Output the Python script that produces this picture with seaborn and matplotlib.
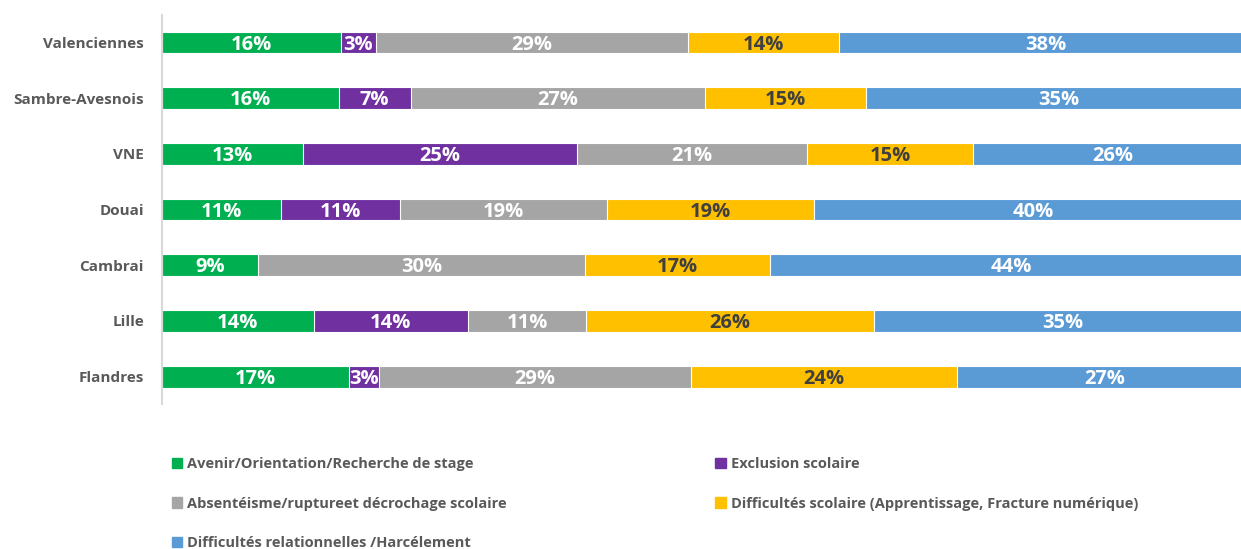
import matplotlib
matplotlib.use('Agg')

import matplotlib.pyplot as plt
import matplotlib.patches as mpatches
import seaborn as sns
import numpy as np

# data (share of answers, %)
regions = ["Valenciennes", "Sambre-Avesnois", "VNE", "Douai", "Cambrai", "Lille", "Flandres"]
series_names = [
    "Avenir/Orientation/Recherche de stage",
    "Exclusion scolaire",
    "Absentéisme/ruptureet décrochage scolaire",
    "Difficultés scolaire (Apprentissage, Fracture numérique)",
    "Difficultés relationnelles /Harcélement",
]
avenir = [16.4, 16.2, 12.9, 10.9, 8.8, 13.9, 17.2]
exclusion = [3.2, 6.6, 25.2, 10.9, 0.0, 14.2, 2.7]
absenteisme = [28.7, 27.0, 21.1, 19.0, 30.0, 10.8, 28.6]
difficultes_scol = [13.8, 14.8, 15.2, 19.0, 17.0, 26.4, 24.4]
difficultes_rel = [37.9, 35.4, 25.6, 40.2, 44.2, 34.7, 27.1]

colors = ["#00B050", "#7030A0", "#A5A5A5", "#FFC000", "#5B9BD5"]
label_colors = ["white", "white", "white", "#404040", "white"]

sns.set_style("white")
plt.rcParams['font.family'] = ['Open Sans', 'DejaVu Sans']

values = np.array([avenir, exclusion, absenteisme, difficultes_scol, difficultes_rel])
cum = values.cumsum(axis=0)

fig = plt.figure(figsize=(12.41, 5.49), dpi=100)
ax = fig.add_axes([162 / 1241, 1 - 404.5 / 549, 1090 / 1241, 389.85 / 549])

# stacked bars: draw cumulative totals from the last series to the first
for i in range(len(series_names) - 1, -1, -1):
    sns.barplot(x=cum[i], y=regions, order=regions, orient="h", color=colors[i],
                width=0.39, edgecolor="white", linewidth=0.8, saturation=1, ax=ax)

for i in range(len(series_names)):
    for j in range(len(regions)):
        v = values[i, j]
        if v <= 0:
            continue
        ax.annotate(f"{v:.0f}%", (cum[i, j] - v / 2, j), xytext=(0, -1.5),
                    textcoords="offset points", ha="center", va="center",
                    fontsize=14.5, fontweight="bold", color=label_colors[i])

ax.set_xlim(0, 100)
ax.set_ylim(6.5, -0.5)
ax.set_xlabel("")
ax.set_ylabel("")
ax.set_xticks([])
ax.tick_params(axis="y", length=0, pad=13)
for lbl in ax.get_yticklabels():
    lbl.set_fontsize(11)
    lbl.set_fontweight("bold")
    lbl.set_color("#595959")
for s in ["top", "right", "bottom"]:
    ax.spines[s].set_visible(False)
ax.spines["left"].set_color("#D9D9D9")
ax.spines["left"].set_linewidth(1.5)

handles = [mpatches.Patch(color=c, label=n) for c, n in zip(colors, series_names)]
order = [0, 2, 4, 1, 3]
leg = fig.legend([handles[k] for k in order], [series_names[k] for k in order],
                 loc="upper left", bbox_to_anchor=(172 / 1241, 1 - 457 / 549),
                 ncol=2, frameon=False, borderaxespad=0, borderpad=0,
                 handlelength=0.7, handleheight=0.7, handletextpad=0.35,
                 columnspacing=14.3, labelspacing=1.75,
                 prop={"weight": "bold", "size": 10.5})
for t in leg.get_texts():
    t.set_color("#595959")

fig.savefig("out.png", dpi=100)
plt.close()
